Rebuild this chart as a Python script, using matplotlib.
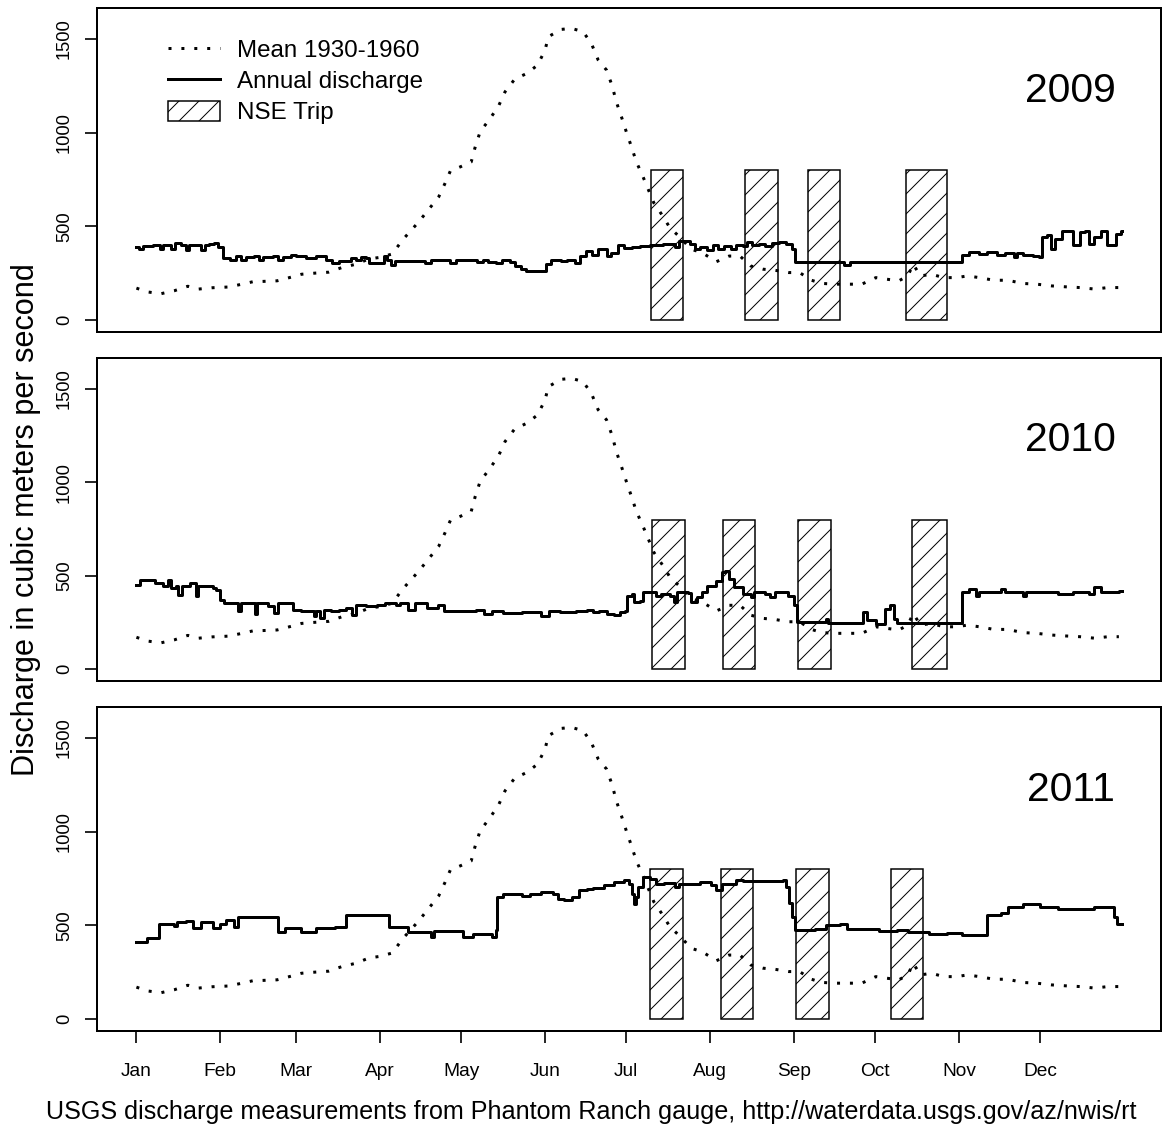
import matplotlib
matplotlib.use("Agg")
import matplotlib.pyplot as plt
from matplotlib.patches import Patch, Rectangle
from matplotlib.lines import Line2D

# mean daily discharge 1930-1960 (same curve in every panel)
mean_day = [1, 5, 10, 15, 20, 24, 29, 35, 40, 44, 48, 53, 57, 62, 67, 72, 77, 82, 87, 91,
            95.5, 99.5, 103, 105.5, 109, 112.7, 115, 117, 120.7, 124.7, 126.2, 128, 131.7,
            134.8, 137.2, 140.7, 145.2, 149.2, 152, 153.2, 158, 161.8, 166, 169.1, 171.6,
            174.7, 176.8, 178.3, 180.2, 182, 183.9, 185.7, 188.2, 192.2, 195.5, 198.1, 202,
            206, 210, 215.3, 220, 224, 228, 232.5, 237, 242, 246, 250.4, 254.3, 259.6, 264.3,
            269, 274.2, 278, 282.7, 286, 288, 290.7, 294.7, 299.3, 304, 308, 312.5, 317.8,
            323, 328.4, 333.7, 339, 344.3, 349.6, 355, 360, 364]
mean_val = [170, 150, 140, 156, 180, 165, 172, 176, 191, 204, 206, 209, 224, 244, 250, 255,
            280, 297, 326, 334, 352, 430, 486, 527, 590, 657, 728, 795, 817, 843, 924, 1004,
            1075, 1141, 1217, 1283, 1315, 1359, 1440, 1511, 1550, 1555, 1538, 1475, 1387,
            1333, 1248, 1164, 1084, 1004, 924, 844, 763, 624, 554, 492, 439, 377, 359, 311,
            341, 341, 288, 271, 265, 253, 253, 212, 195, 191, 191, 191, 226, 218, 209, 235,
            297, 235, 244, 226, 226, 235, 226, 212, 212, 195, 191, 182, 177, 173, 165, 173, 173]

# annual discharge, step changes (day of year, value)
day_2009 = [1, 2, 3.5, 7, 9.6, 10.8, 13.9, 15.1, 17.6, 19.4, 20.6, 24.9, 26.2, 28, 29.8, 31.1,
            32.9, 35.4, 37.8, 39.7, 41.5, 44.6, 46.4, 47.6, 51.3, 53.2, 55, 58.1, 59.9, 63.6,
            67.3, 71, 73.4, 75.9, 80.2, 82, 83.8, 85.7, 86.9, 92.4, 93.7, 94.9, 96.7, 104,
            107.8, 110, 116, 117, 119, 127, 129, 131, 134, 136, 139, 141, 143, 145, 152.5, 154,
            158, 160, 163, 165, 167, 169.5, 171.5, 175, 176.5, 179, 181, 184.2, 186.9, 190.9,
            193.5, 195.5, 200, 201.4, 205.4, 207.4, 209.4, 212, 214, 216, 218, 220.6, 222.6,
            225.2, 226.6, 228.5, 231.2, 233.2, 235.8, 238.5, 241.1, 243.1, 244.4, 262.3, 264.5,
            305.9, 308.6, 312.5, 315.2, 319.1, 321.8, 325.1, 326.4, 328.4, 332.4, 334.3, 335.7,
            337.6, 339, 340.3, 343, 346.9, 349.6, 351.5, 352.9, 354.8, 357.5, 359.5, 362.8,
            364.8, 365]
val_2009 = [392, 378, 396, 401, 378, 401, 378, 410, 401, 375, 401, 375, 401, 406, 410, 392,
            330, 322, 339, 322, 336, 339, 318, 336, 339, 318, 336, 348, 339, 330, 339, 322, 304,
            313, 330, 322, 336, 330, 304, 339, 322, 295, 313, 317, 304, 320, 318, 305, 318, 310,
            318, 312, 305, 318, 308, 290, 270, 263, 300, 320, 315, 322, 305, 340, 370, 345, 378,
            342, 360, 398, 383, 389, 394, 401, 398, 406, 389, 419, 406, 380, 389, 371, 398, 380,
            394, 380, 398, 394, 415, 398, 406, 394, 412, 415, 406, 380, 309, 295, 309, 348, 362,
            353, 362, 345, 359, 336, 359, 345, 341, 336, 442, 451, 380, 433, 477, 398, 468, 477,
            406, 442, 477, 398, 459, 477, 477]

day_2010 = [1, 2.4, 8, 10.9, 12.5, 13.7, 15.8, 16.5, 18, 20.8, 22.9, 23.6, 29.2, 30.5, 32,
            33.5, 38.4, 39.5, 44.7, 45.5, 49.7, 51.8, 53.2, 58.9, 61.7, 66.6, 67.3, 68.7, 70.2,
            72.9, 75.8, 78.6, 80.7, 82.1, 85.7, 89.9, 92.7, 97, 98.5, 101.2, 104, 108.3, 112.5,
            114.6, 126.6, 129.4, 132.2, 136.5, 143.5, 150.6, 153.4, 157.6, 163.3, 167.5, 169.7,
            172, 175, 177.6, 179.6, 181.6, 182.3, 184.2, 184.9, 186.9, 188.2, 192.8, 194.8,
            198.1, 199.5, 200.8, 204.7, 206, 208, 210, 212, 215.3, 217.3, 218.6, 220, 221.9,
            225.2, 227.9, 229.2, 233.2, 235.2, 237.1, 241.8, 243.8, 245.1, 255.7, 256.5, 269.5,
            270.9, 274.2, 277.5, 279.5, 280.8, 282.1, 305.9, 308.5, 311.2, 312.5, 320.5, 322,
            328.4, 329.7, 341.6, 346.9, 352.8, 354.8, 357.5, 364.1, 365]
val_2010 = [451, 478, 460, 442, 478, 433, 442, 398, 442, 460, 393, 442, 433, 425, 371, 354,
            310, 354, 297, 354, 336, 301, 354, 318, 310, 283, 310, 274, 318, 310, 318, 327, 287,
            345, 336, 345, 354, 345, 354, 318, 354, 327, 345, 310, 318, 292, 310, 301, 304, 283,
            310, 304, 310, 318, 304, 313, 296, 290, 304, 313, 393, 402, 358, 366, 411, 393, 402,
            393, 358, 411, 407, 358, 384, 411, 446, 473, 517, 526, 481, 437, 402, 384, 411, 402,
            384, 411, 393, 340, 251, 269, 248, 304, 260, 242, 322, 340, 269, 248, 411, 428, 393,
            411, 428, 411, 393, 411, 402, 411, 402, 437, 411, 419, 419]

day_2011 = [1, 5, 9.5, 15, 16, 19.3, 22, 25, 29.2, 32, 34, 37, 38.4, 53.2, 56, 61.7, 67.3,
            74.4, 78.3, 94.4, 101.2, 109.7, 111, 121.7, 125.2, 132.2, 133.7, 134.4, 136.5,
            143.5, 146.4, 150.6, 154.8, 156.9, 159, 161.9, 164.7, 167.5, 169.7, 173.7, 177.6,
            181, 183, 184.2, 184.9, 185.6, 186.2, 188.2, 190.9, 192.8, 196.1, 200, 201.4, 209.4,
            213.3, 215.3, 217.3, 222.6, 225.2, 239.8, 241.1, 242, 243.1, 244.4, 251.7, 255.7,
            261, 263.6, 275.5, 282.1, 286.1, 294, 300.6, 305.9, 315.2, 320.5, 323.1, 328.4,
            335, 341.6, 354.8, 362.1, 363.4, 365]
val_2011 = [412, 430, 509, 495, 518, 524, 486, 518, 483, 509, 527, 492, 545, 465, 483, 465,
            483, 492, 554, 492, 465, 435, 470, 439, 456, 435, 474, 651, 669, 655, 669, 678, 669,
            642, 633, 651, 686, 695, 700, 713, 731, 739, 722, 669, 616, 651, 704, 757, 748, 722,
            725, 704, 722, 731, 713, 686, 722, 739, 734, 743, 704, 620, 545, 474, 478, 501, 509,
            478, 470, 474, 465, 456, 460, 448, 554, 566, 598, 612, 598, 589, 598, 545, 509, 509]

# NSE trips (start day, end day)
trips_2009 = [(191, 203), (226, 238), (249, 261), (285.4, 300.4)]
trips_2010 = [(191.5, 203.8), (217.6, 229.6), (245.5, 257.5), (287.4, 300.4)]
trips_2011 = [(190.9, 203), (216.9, 228.9), (244.8, 256.8), (279.9, 291.8)]

years = ["2009", "2010", "2011"]
month_day = [1, 32, 60, 91, 121, 152, 182, 213, 244, 274, 305, 335]
month_lab = ["Jan", "Feb", "Mar", "Apr", "May", "Jun", "Jul", "Aug", "Sep", "Oct", "Nov", "Dec"]

plt.rcParams['font.family'] = ['Liberation Sans', 'DejaVu Sans']
plt.rcParams['hatch.linewidth'] = 0.6

DPI = 120
fig = plt.figure(figsize=(1163 / DPI, 1131 / DPI), dpi=DPI)

W, H = 1163.0, 1131.0
left, right = 97, 1161
tops = [8, 358, 707]
bottoms = [332, 681, 1031]
dotted = (0, (1, 3.3))

series = [(day_2009, val_2009, trips_2009),
          (day_2010, val_2010, trips_2010),
          (day_2011, val_2011, trips_2011)]

axs = []
for i, (dd, vv, trips) in enumerate(series):
    ax = fig.add_axes([left / W, 1 - bottoms[i] / H, (right - left) / W, (bottoms[i] - tops[i]) / H])
    axs.append(ax)
    ax.plot(mean_day, mean_val, color="black", lw=1.8, linestyle=dotted, dash_capstyle="butt")
    ax.plot(dd, vv, color="black", lw=1.8, drawstyle="steps-post")
    for s, e in trips:
        ax.add_patch(Rectangle((s, 0), e - s, 800, fill=False, hatch="//",
                               edgecolor="black", lw=0.9))
    ax.set_xlim(1 - 14.56, 365 + 14.56)
    ax.set_ylim(-64, 1664)
    ax.set_yticks([0, 500, 1000, 1500])
    ax.set_yticklabels(["0", "500", "1000", "1500"])
    ax.tick_params(axis="y", labelrotation=90, length=7, width=1.0, pad=7.5, labelsize=11)
    for lab in ax.get_yticklabels():
        lab.set_va("center")
    for sp in ax.spines.values():
        sp.set_linewidth(1.2)
    ax.text(0.915, 0.745, years[i], transform=ax.transAxes, ha="center", va="center", fontsize=24.5)
    if i < 2:
        ax.tick_params(axis="x", bottom=False, labelbottom=False)
    else:
        ax.set_xticks(month_day)
        ax.set_xticklabels(month_lab)
        ax.tick_params(axis="x", length=7, width=1.0, pad=12, labelsize=11.5)

handles = [Line2D([], [], color="black", lw=1.8, linestyle=dotted, dash_capstyle="butt"),
           Line2D([], [], color="black", lw=1.8),
           Patch(facecolor="white", edgecolor="black", hatch="//", lw=0.9)]
axs[0].legend(handles, ["Mean 1930-1960", "Annual discharge", "NSE Trip"],
              loc="upper left", bbox_to_anchor=(0.0667, 0.903), frameon=False, fontsize=14.5,
              handlelength=2.15, handleheight=0.85, handletextpad=0.7, labelspacing=0.33,
              borderpad=0, borderaxespad=0)

fig.text(26 / W, 1 - 520 / H, "Discharge in cubic meters per second", rotation=90,
         ha="center", va="center", fontsize=18.4)
fig.text(591 / W, 1 - 1112 / H,
         "USGS discharge measurements from Phantom Ranch gauge, http://waterdata.usgs.gov/az/nwis/rt",
         ha="center", va="center", fontsize=15.05)

fig.savefig("out.png", dpi=DPI)
